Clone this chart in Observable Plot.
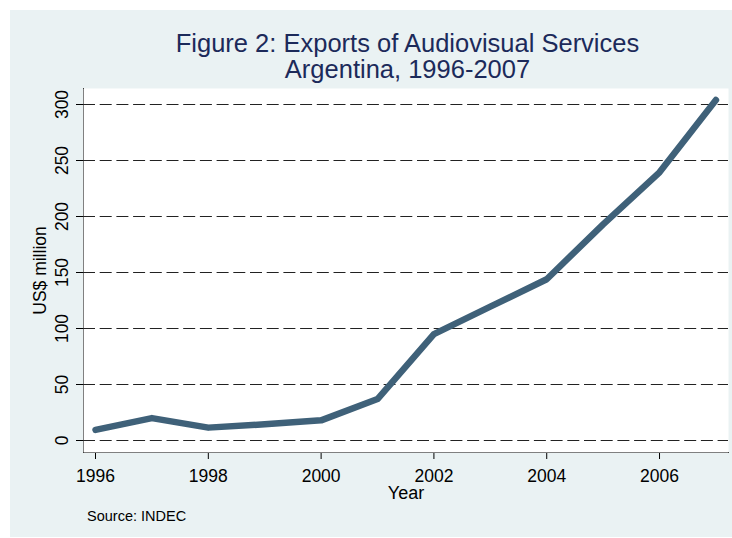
<!DOCTYPE html>
<html>
<head>
<meta charset="utf-8">
<script src="https://cdn.jsdelivr.net/npm/d3@7"></script>
<script src="https://cdn.jsdelivr.net/npm/@observablehq/plot@0.6"></script>
<style>
  html, body { margin: 0; padding: 0; background: #ffffff; }
  body { width: 732px; height: 538px; position: relative; overflow: hidden; font-family: "Liberation Sans", Arial, Helvetica, sans-serif; }
  #panel { position: absolute; left: 10px; top: 10px; width: 722px; height: 527px; background: #eaf2f3; }
  .title { position: absolute; left: 0; top: 30px; width: 815px; text-align: center; font-size: 25.5px; line-height: 26px; color: #1c2a5a; }
  #chart { position: absolute; left: 0; top: 80px; }
  .caption { position: absolute; left: 87px; top: 508px; font-size: 14.5px; line-height: 17px; color: #000; }
</style>
</head>
<body>
<div id="panel"></div>
<div class="title">Figure 2: Exports of Audiovisual Services<br>Argentina, 1996-2007</div>
<div id="chart"></div>
<div class="caption">Source: INDEC</div>
<script>
const years = [1996, 1997, 1998, 1999, 2000, 2001, 2002, 2003, 2004, 2005, 2006, 2007];
const exportsUSDm = [9.5, 20, 11.5, 14.5, 18, 37, 95, 119.5, 144, 193, 239.5, 304];
const xTicks = [1996, 1998, 2000, 2002, 2004, 2006];
const yTicks = [0, 50, 100, 150, 200, 250, 300];
const yLabel = "US$ million";
const xLabel = "Year";

const data = years.map((y, i) => ({year: y, value: exportsUSDm[i]}));

const chart = Plot.plot({
  width: 732,
  height: 458,
  marginTop: 8,
  marginBottom: 86,
  marginLeft: 83,
  marginRight: 4,
  style: {background: "transparent", color: "#000", fontFamily: "Liberation Sans, Arial, sans-serif", fontSize: "17.5px"},
  x: {domain: [1995.787, 2007.223], ticks: xTicks, tickFormat: d => String(d), tickSize: 7, tickPadding: 10, label: null, line: true, fontSize: 18},
  y: {domain: [-10.71, 314.29], ticks: yTicks, tickSize: 7, tickPadding: 9, tickRotate: -90, label: null, line: true},
  marks: [
    Plot.frame({fill: "white", stroke: "none"}),
    Plot.ruleY(yTicks, {stroke: "#222", strokeWidth: 1, strokeDasharray: "12,4.7"}),
    Plot.line(data, {x: "year", y: "value", stroke: "#3f6179", strokeWidth: 6.5, strokeLinecap: "round", strokeLinejoin: "round"}),
    Plot.text([yLabel], {frameAnchor: "left", rotate: -90, dx: -43, fontSize: 17.5, textAnchor: "middle", lineAnchor: "middle", fill: "#000"}),
    Plot.text([xLabel], {frameAnchor: "bottom", dy: 40.4, fontSize: 18, textAnchor: "middle", lineAnchor: "middle", fill: "#000"})
  ]
});
document.getElementById("chart").appendChild(chart);
</script>
</body>
</html>
